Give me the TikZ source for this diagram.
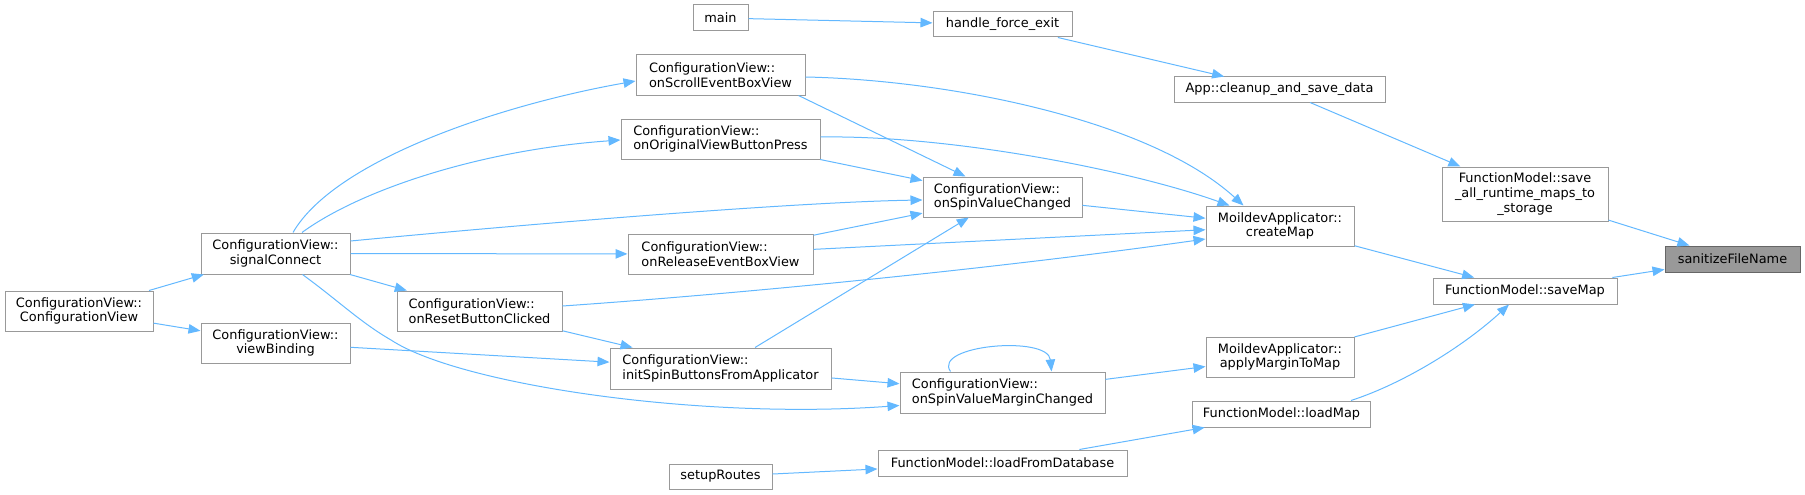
\documentclass[tikz,border=0pt]{standalone}
\usepackage{fontspec}
\setmainfont{DejaVu Sans}
\usetikzlibrary{arrows.meta,calc}
\definecolor{edgec}{HTML}{63B8FF}
\definecolor{boxc}{HTML}{999999}
\definecolor{hlfill}{HTML}{999999}
\definecolor{hldraw}{HTML}{666666}
\tikzset{
  fn/.style={draw=boxc, line width=1pt, fill=white, rectangle, inner sep=0pt,
    font=\fontsize{12.9}{14.7}\selectfont, text=black, align=center},
  fnl/.style={fn, align=left},
  hl/.style={fn, fill=hlfill, draw=hldraw},
  e/.style={draw=edgec, line width=1pt, -{Triangle[length=12pt,width=9.5pt]}},
}
\begin{document}
\begin{tikzpicture}[x=1pt,y=-1pt]
\useasboundingbox (0,0) rectangle (1805,495);
% nodes
\node[fn, minimum width=148pt, minimum height=40pt] (cvcv) at (79,311) {ConfigurationView::\\ConfigurationView};
\node[fn, minimum width=149pt, minimum height=41pt] (sig) at (275.5,253.5) {ConfigurationView::\\signalConnect};
\node[fn, minimum width=149pt, minimum height=40pt] (vb) at (275.5,343) {ConfigurationView::\\viewBinding};
\node[fnl, minimum width=165pt, minimum height=40pt] (reset) at (479.5,311) {ConfigurationView::\\onResetButtonClicked};
\node[fnl, minimum width=221pt, minimum height=41pt] (init) at (720.5,368.5) {ConfigurationView::\\initSpinButtonsFromApplicator};
\node[fnl, minimum width=205pt, minimum height=41pt] (margin) at (1002.5,392.5) {ConfigurationView::\\onSpinValueMarginChanged};
\node[fn, minimum width=103pt, minimum height=25pt] (setup) at (720.5,476.5) {setupRoutes};
\node[fn, minimum width=249pt, minimum height=26pt] (lfd) at (1002.5,463) {FunctionModel::loadFromDatabase};
\node[fn, minimum width=55pt, minimum height=26pt] (main) at (720.5,18) {main};
\node[fn, minimum width=139pt, minimum height=25pt] (hfe) at (1002.5,24.5) {handle\_force\_exit};
\node[fnl, minimum width=169pt, minimum height=40pt] (scroll) at (720.5,75) {ConfigurationView::\\onScrollEventBoxView};
\node[fnl, minimum width=199pt, minimum height=40pt] (orig) at (720.5,139) {ConfigurationView::\\onOriginalViewButtonPress};
\node[fnl, minimum width=185pt, minimum height=40pt] (release) at (720.5,254) {ConfigurationView::\\onReleaseEventBoxView};
\node[fnl, minimum width=159pt, minimum height=40pt] (spin) at (1002.5,197) {ConfigurationView::\\onSpinValueChanged};
\node[fn, minimum width=211pt, minimum height=25pt] (app) at (1279.5,89.5) {App::cleanup\_and\_save\_data};
\node[fn, minimum width=148pt, minimum height=40pt] (cmap) at (1280,226) {MoildevApplicator::\\createMap};
\node[fn, minimum width=148pt, minimum height=40pt] (amap) at (1280,357) {MoildevApplicator::\\applyMarginToMap};
\node[fn, minimum width=178pt, minimum height=26pt] (lmap) at (1281.5,414) {FunctionModel::loadMap};
\node[fn, minimum width=166pt, minimum height=54pt] (saveall) at (1525,194) {FunctionModel::save\\\_all\_runtime\_maps\_to\\\_storage};
\node[fn, minimum width=184pt, minimum height=26pt] (savemap) at (1525,291) {FunctionModel::saveMap};
\node[hl, minimum width=135pt, minimum height=26pt] (san) at (1732.5,259) {sanitizeFileName};
% straight edges
\draw[e] (main) -- (hfe);
\draw[e] (hfe) -- (app);
\draw[e] (app) -- (saveall);
\draw[e] (saveall) -- (san);
\draw[e] (savemap) -- (san);
\draw[e] (cmap) -- (savemap);
\draw[e] (amap) -- (savemap);
\draw[e] (lfd) -- (lmap);
\draw[e] (setup) -- (lfd);
\draw[e] (margin) -- (amap);
\draw[e] (init) -- (margin);
\draw[e] (vb) -- (init);
\draw[e] (reset) -- (init);
\draw[e] (release) -- (cmap);
\draw[e] (spin) -- (cmap);
\draw[e] (orig) -- (spin);
\draw[e] (release) -- (spin);
\draw[e] (init) -- (spin);
\draw[e] (sig) -- (release);
\draw[e] (sig) -- (reset);
\draw[e] (cvcv) -- (sig);
\draw[e] (cvcv) -- (vb);
% shaped edges
\draw[e] ($(scroll.south east)+(-7,0)$) -- ($(spin.north west)+(43,0)$);
\draw[e] ($(lmap.north east)+(-20,0)$) .. controls (1405,383) and (1465,345) .. ($(savemap.south)+(-16,0)$);
\draw[e] ($(margin.north west)+(51,0)$) .. controls (932,345) and (1048,335) .. ($(margin.north west)+(152,0)$);
\draw[e] ($(sig.south)+(27,0)$) .. controls (340,302) and (360,322) .. (391,340) .. controls (460,385) and (700,420) .. ($(margin.west)+(0,13)$);
\draw[e] ($(reset.east)+(0,-5)$) .. controls (750,293) and (1000,268) .. ($(cmap.west)+(0,13)$);
\draw[e] ($(orig.east)+(0,-2)$) .. controls (950,135) and (1130,170) .. ($(cmap.north west)+(24,0)$);
\draw[e] ($(scroll.east)+(0,2)$) .. controls (950,80) and (1150,120) .. ($(cmap.north west)+(38,0)$);
\draw[e] ($(sig.east)+(0,-12.5)$) .. controls (550,222) and (800,202) .. ($(spin.west)+(0,3)$);
\draw[e] ($(sig.north)+(17.5,0)$) .. controls (335,160) and (500,105) .. ($(scroll.west)+(0,6)$);
\draw[e] ($(sig.north)+(26.5,0)$) .. controls (360,190) and (480,150) .. ($(orig.west)+(0,1)$);
\end{tikzpicture}
\end{document}
